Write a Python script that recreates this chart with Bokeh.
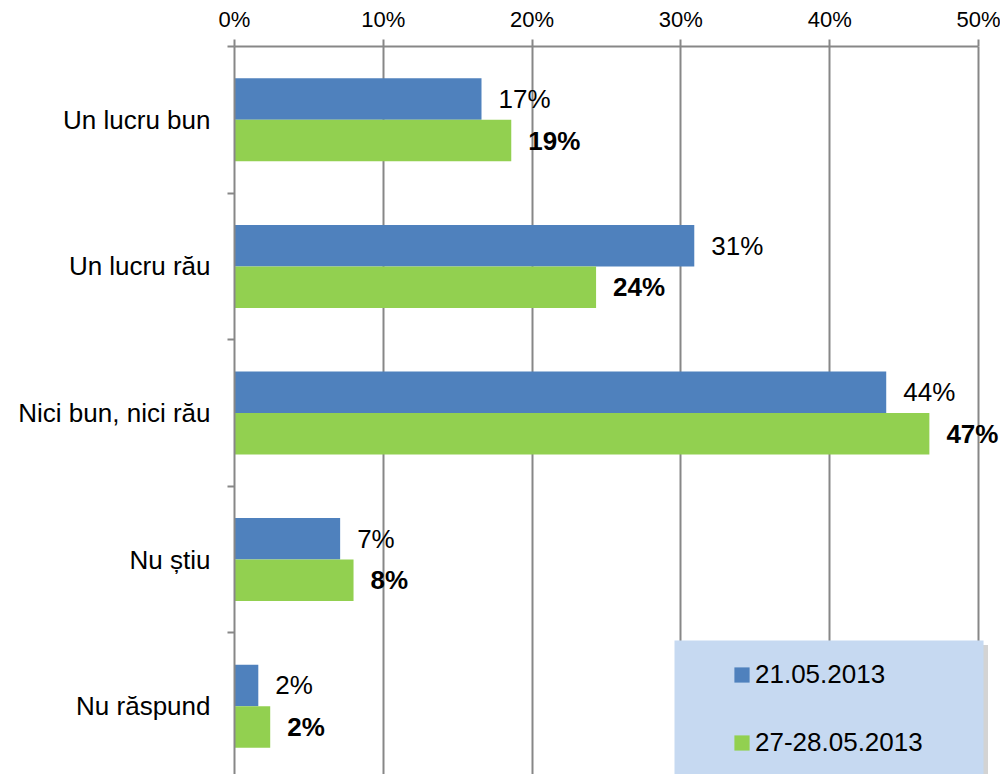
import numpy as np
from bokeh.plotting import figure
from bokeh.models import (ColumnDataSource, Range1d, FixedTicker, LabelSet, Legend,
                          LegendItem, BoxAnnotation)
from bokeh.transform import dodge
from bokeh.core.properties import value
from bokeh.embed import file_html
from bokeh.resources import INLINE

categories = ["Un lucru bun", "Un lucru rău", "Nici bun, nici rău", "Nu știu", "Nu răspund"]
series_names = ["21.05.2013", "27-28.05.2013"]
vals_0521 = [16.6, 30.9, 43.8, 7.1, 1.6]
vals_2728 = [18.6, 24.3, 46.7, 8.0, 2.4]
labels_0521 = ["17%", "31%", "44%", "7%", "2%"]
labels_2728 = ["19%", "24%", "47%", "8%", "2%"]
tick_values = [0, 10, 20, 30, 40, 50]
tick_labels = ["0%", "10%", "20%", "30%", "40%", "50%"]

BLUE = "#4F81BD"
GREEN = "#92D050"
GRID = "#878787"
FONT = "Liberation Sans"
BAR_H = 0.283
OFF = BAR_H / 2

pos = np.arange(len(categories)) + 0.5
src = ColumnDataSource(dict(pos=pos, a=vals_0521, b=vals_2728,
                            la=labels_0521, lb=labels_2728))

p = figure(width=1000, height=774, output_backend="svg", toolbar_location=None,
           x_range=Range1d(0, 51.48), y_range=Range1d(4.966, 0),
           x_axis_location="above",
           min_border_left=234, min_border_top=46, min_border_right=0,
           min_border_bottom=0)
p.outline_line_color = None
p.background_fill_color = "white"
p.border_fill_color = "white"

xa = p.xaxis[0]
xa.ticker = FixedTicker(ticks=tick_values)
xa.bounds = (tick_values[0], tick_values[-1])
xa.major_label_overrides = {v: l for v, l in zip(tick_values, tick_labels)}
xa.minor_tick_line_color = None
xa.major_tick_out = 7
xa.major_tick_in = 0
xa.axis_line_color = GRID
xa.axis_line_width = 2
xa.major_tick_line_color = GRID
xa.major_tick_line_width = 2
xa.major_label_text_font = FONT
xa.major_label_text_font_size = "22px"
xa.major_label_text_color = "black"
xa.major_label_standoff = 8

ya = p.yaxis[0]
ya.ticker = FixedTicker(ticks=list(pos), minor_ticks=list(range(len(categories) + 1)))
ya.major_label_overrides = {float(c): name for c, name in zip(pos, categories)}
ya.major_tick_out = 0
ya.major_tick_in = 0
ya.minor_tick_out = 7
ya.minor_tick_in = 0
ya.minor_tick_line_color = GRID
ya.minor_tick_line_width = 2
ya.axis_line_color = GRID
ya.axis_line_width = 2
ya.major_label_standoff = 17
ya.major_label_text_font = FONT
ya.major_label_text_font_size = "26px"
ya.major_label_text_color = "black"

p.xgrid.grid_line_color = GRID
p.xgrid.grid_line_width = 2
p.ygrid.grid_line_color = None

r_a = p.hbar(y=dodge("pos", -OFF, range=p.y_range), right="a", left=0, height=BAR_H,
             source=src, fill_color=BLUE, line_color=None)
r_b = p.hbar(y=dodge("pos", OFF, range=p.y_range), right="b", left=0, height=BAR_H,
             source=src, fill_color=GREEN, line_color=None)

lab_a = LabelSet(x="a", y=dodge("pos", -OFF, range=p.y_range), text="la", source=src,
                 x_offset=17, text_baseline="middle", text_align="left",
                 text_font=value(FONT), text_font_size="26px", text_color="black")
lab_b = LabelSet(x="b", y=dodge("pos", OFF, range=p.y_range), text="lb", source=src,
                 x_offset=17, text_baseline="middle", text_align="left",
                 text_font=value(FONT), text_font_size="26px", text_color="black",
                 text_font_style="bold")
p.add_layout(lab_a)
p.add_layout(lab_b)

shadow = BoxAnnotation(left=29.57 + 0.3, right=50.34 + 0.3, top=4.052 + 0.03, bottom=5.3,
                       fill_color="#808080", fill_alpha=0.35, line_color=None)
box = BoxAnnotation(left=29.57, right=50.34, top=4.052, bottom=5.3,
                    fill_color="#C6D9F1", fill_alpha=1.0, line_color=None)
p.add_layout(shadow)
p.add_layout(box)

legend = Legend(items=[LegendItem(label=series_names[0], renderers=[r_a]),
                       LegendItem(label=series_names[1], renderers=[r_b])],
                location=(498, 16), orientation="vertical",
                glyph_width=19, glyph_height=19, label_standoff=4, spacing=37,
                padding=10, margin=0,
                label_text_font=FONT, label_text_font_size="26px",
                label_text_color="black",
                background_fill_alpha=0, border_line_color=None)
p.add_layout(legend)

open("out.html", "w").write(file_html(p, INLINE))
